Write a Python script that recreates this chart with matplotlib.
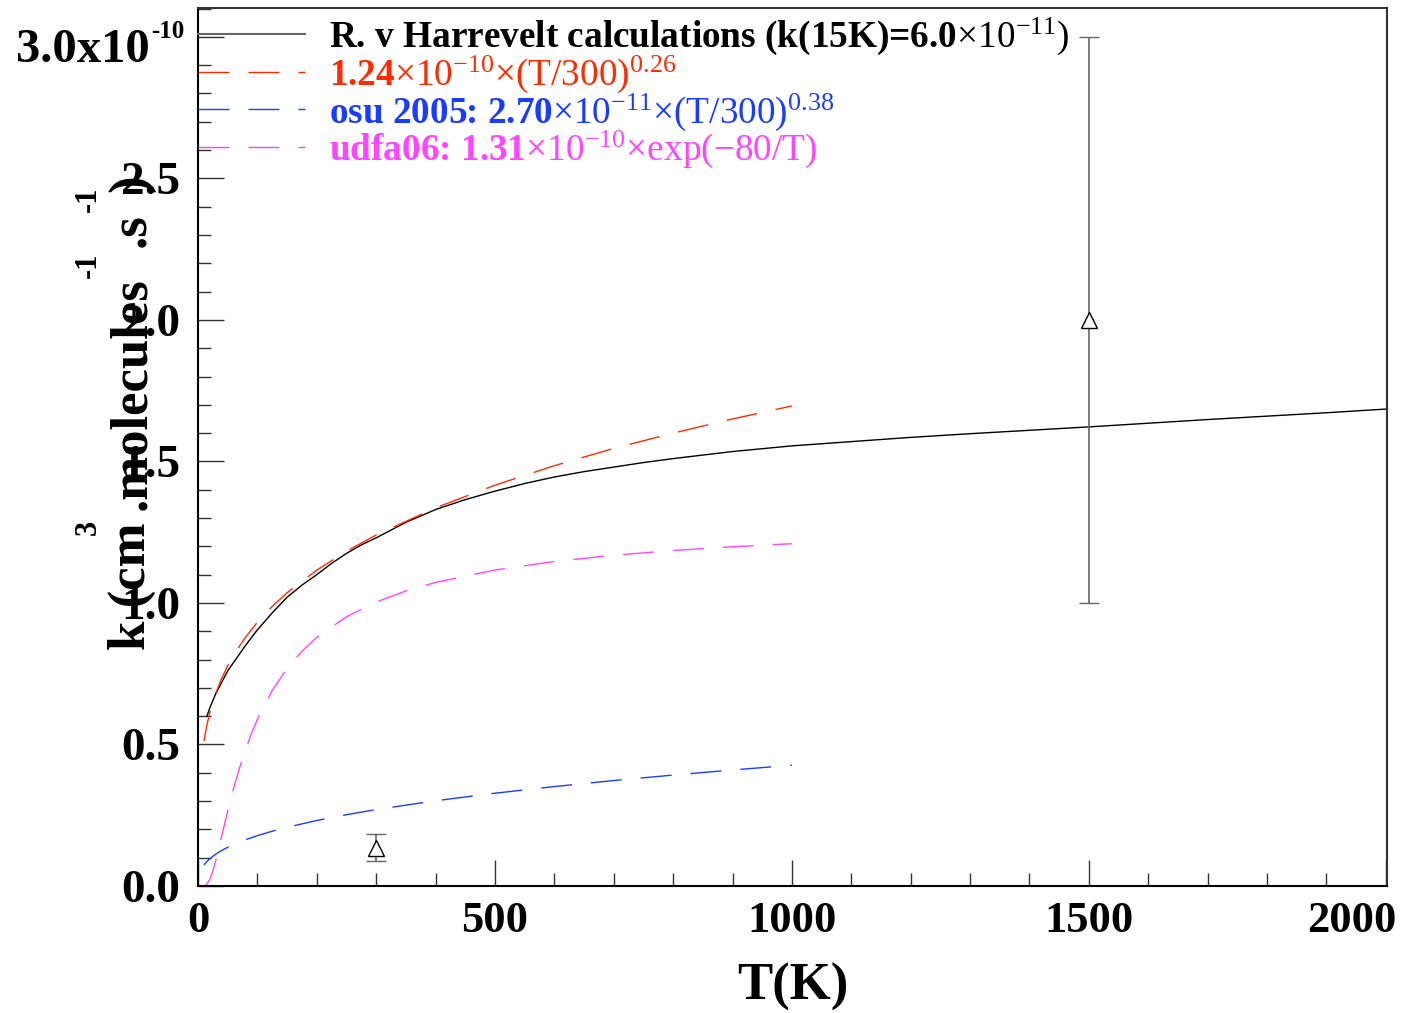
import matplotlib
matplotlib.use('Agg')
import matplotlib.pyplot as plt
from matplotlib.ticker import MultipleLocator
from matplotlib.transforms import ScaledTranslation

plt.rcParams['font.family'] = ['Liberation Serif', 'DejaVu Serif']
plt.rcParams['mathtext.fontset'] = 'custom'
plt.rcParams['mathtext.rm'] = 'Liberation Serif'
plt.rcParams['mathtext.it'] = 'Liberation Serif:italic'
plt.rcParams['mathtext.bf'] = 'Liberation Serif:bold'
plt.rcParams['lines.scale_dashes'] = False

# ---------------- data (k in units of 1e-10 cm^3 molecule^-1 s^-1) ----------------
T_calc = [15, 20, 30, 40, 50, 60, 80, 100, 125, 150, 175, 200, 225, 250, 275, 300, 350,
          400, 450, 500, 550, 600, 650, 700, 750, 800, 900, 1000, 1100, 1200, 1300, 1400,
          1500, 1600, 1700, 1800, 1900, 2000]
k_calc = [0.60, 0.63, 0.68, 0.72, 0.76, 0.79, 0.85, 0.905, 0.965, 1.02, 1.063, 1.10,
          1.14, 1.175, 1.205, 1.23, 1.285, 1.33, 1.365, 1.395, 1.422, 1.445, 1.464, 1.48,
          1.496, 1.51, 1.535, 1.555, 1.57, 1.585, 1.598, 1.61, 1.622, 1.635, 1.648, 1.66,
          1.672, 1.685]

T_fit = [10, 15, 20, 30, 40, 50, 60, 80, 100, 125, 150, 200, 250, 300, 400, 500,
         600, 700, 800, 900, 1000]
k_red = [0.512, 0.569, 0.613, 0.681, 0.734, 0.778, 0.816, 0.879, 0.932, 0.988, 1.036,
         1.116, 1.183, 1.240, 1.336, 1.416, 1.485, 1.546, 1.600, 1.650, 1.696]
k_osu = [0.074, 0.0865, 0.0965, 0.1126, 0.1256, 0.1367, 0.1465, 0.1634, 0.1779, 0.1936,
         0.2075, 0.2314, 0.2519, 0.270, 0.3012, 0.3278, 0.3513, 0.3726, 0.3919, 0.4099,
         0.4266]

T_udfa = [10, 12, 15, 20, 25, 30, 35, 40, 50, 60, 70, 80, 90, 100, 125, 150, 175, 200,
          250, 300, 350, 400, 500, 600, 700, 800, 900, 1000]
k_udfa = [0.0004, 0.0017, 0.0063, 0.024, 0.0534, 0.091, 0.1332, 0.1773, 0.2645, 0.3453,
          0.4178, 0.4819, 0.5386, 0.5886, 0.6908, 0.7685, 0.8294, 0.8781, 0.9512, 1.0033,
          1.0424, 1.0725, 1.1163, 1.1465, 1.1685, 1.1853, 1.1985, 1.2093]

T_exp = [300, 1500]
k_exp = [0.135, 2.0]
k_err = [0.048, 1.0]

labels = [r"R. v Harrevelt calculations (k(15K)=6.0$\mathrm{×10^{-11})}$",
          r"1.24$\mathrm{×10^{-10}×(T/300)^{0.26}}$",
          r"osu 2005: 2.70$\mathrm{×10^{-11}×(T/300)^{0.38}}$",
          r"udfa06: 1.31$\mathrm{×10^{-10}×exp(-80/T)}$"]
colors = ['black', '#ff2a00', '#1a3cff', '#ff44ff']

xticks = [0, 500, 1000, 1500, 2000]
xticklabels = ['0', '500', '1000', '1500', '2000']
yticks = [0.0, 0.5, 1.0, 1.5, 2.0, 2.5, 3.0]
yticklabels = ['0.0', '0.5', '1.0', '1.5', '2.0', '2.5', '']

# ---------------- figure ----------------
W, H = 1402, 1013
fig = plt.figure(figsize=(W / 100, H / 100), dpi=100)

def px(x, y):
    return x / W, 1 - y / H

ax = fig.add_axes([198 / W, 1 - 886 / H, (1387 - 198) / W, (886 - 8) / H])
ax.set_xlim(0, 2002)
ax.set_ylim(0, 3.102)

dash = (0, (22.3, 13.7))
l0, = ax.plot(T_calc, k_calc, color=colors[0], lw=1.0)
l1, = ax.plot(T_fit, k_red, color=colors[1], lw=1.0, linestyle=dash)
l2, = ax.plot(T_fit, k_osu, color=colors[2], lw=1.0, linestyle=dash)
l3, = ax.plot(T_udfa, k_udfa, color=colors[3], lw=1.0, linestyle=dash)

ax.errorbar(T_exp, k_exp, yerr=k_err, fmt='^', ms=11, mfc='white', mec='black',
            mew=1.0, ecolor='#666666', elinewidth=1.2, capsize=7, capthick=1.2, zorder=5)

ax.set_xticks(xticks)
ax.set_xticklabels(xticklabels)
ax.set_yticks(yticks)
ax.set_yticklabels(yticklabels)
ax.xaxis.set_minor_locator(MultipleLocator(100))
ax.yaxis.set_minor_locator(MultipleLocator(0.1))
ax.tick_params(which='both', direction='in', top=False, right=False, color='#333333', width=1.0)
ax.tick_params(which='major', length=18.7)
ax.tick_params(which='minor', length=9.4)
ax.tick_params(axis='x', labelsize=32, pad=11)
ax.tick_params(axis='y', labelsize=34, pad=13)
for t in ax.get_xticklabels() + ax.get_yticklabels():
    t.set_fontweight('bold')
# last x label is shifted left so it stays inside the canvas (as in the original)
last = ax.get_xticklabels()[-1]
last.set_transform(last.get_transform() + ScaledTranslation(-0.34, 0, fig.dpi_scale_trans))

for s in ['left', 'bottom']:
    ax.spines[s].set_linewidth(1.5)
    ax.spines[s].set_color('black')
for s in ['top', 'right']:
    ax.spines[s].set_linewidth(1.5)
    ax.spines[s].set_color('#333333')

leg = ax.legend([l0, l1, l2, l3], labels, loc='upper left',
                bbox_to_anchor=(0, 1 - 8 / 878),
                frameon=False, borderaxespad=0, borderpad=0, handlelength=2.87,
                handletextpad=0.65, labelspacing=-0.1,
                prop={'family': 'Liberation Serif', 'weight': 'bold', 'size': 26.8})
for txt, c in zip(leg.get_texts(), colors):
    txt.set_color(c)
leg.get_lines()[0].set_color('#666666')
leg.get_lines()[0].set_linewidth(1.5)

# top-of-axis multiplier label
fig.text(*px(150, 62), "3.0x10", ha='right', va='baseline', fontsize=35, fontweight='bold')
fig.text(*px(151, 38), "-10", ha='left', va='baseline', fontsize=18, fontweight='bold')

# x label
ax.set_xlabel('T(K)', fontsize=38, fontweight='bold')
ax.xaxis.set_label_coords(0.5, -(1000 - 886) / 878)
ax.xaxis.label.set_verticalalignment('baseline')

# y label (pieces, as laid out in the original)
ykw = dict(rotation=90, rotation_mode='anchor', ha='left', va='baseline',
           fontsize=38, fontweight='bold')
fig.text(*px(145, 650), "k (cm", **ykw)
fig.text(*px(145, 510), ".molecules", **ykw)
fig.text(*px(145, 247), ".s", **ykw)
fig.text(*px(145, 192), ")", **ykw)
skw = dict(rotation=90, rotation_mode='anchor', ha='left', va='baseline',
           fontsize=22, fontweight='bold')
fig.text(*px(96, 535), "3", **skw)
fig.text(*px(96, 278), "-1", **skw)
fig.text(*px(96, 212), "-1", **skw)

fig.savefig('out.png', dpi=100)
